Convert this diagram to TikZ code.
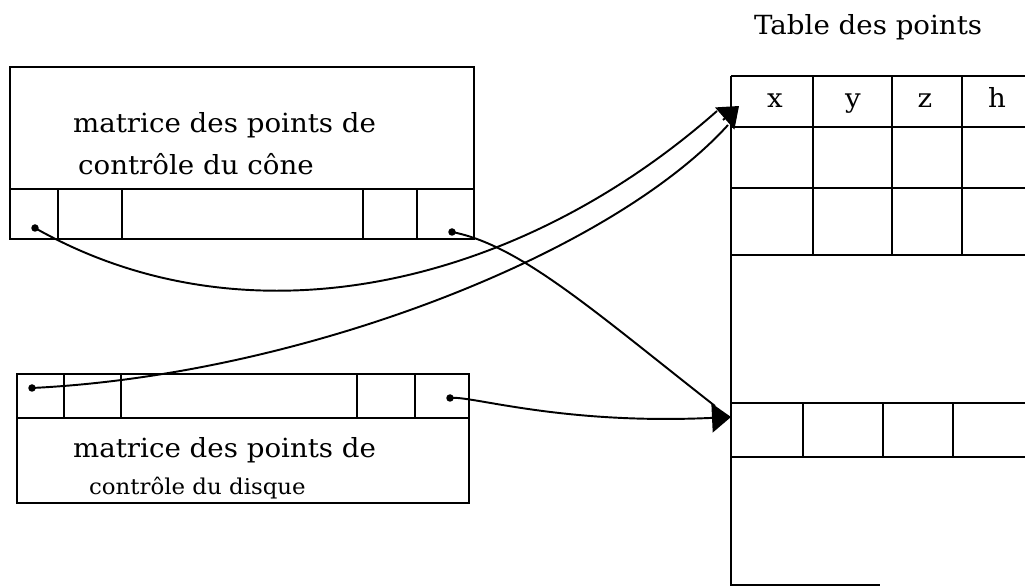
\documentclass[tikz,border=0pt]{standalone}
\usepackage{fontspec}
\setmainfont{DejaVu Serif}[FakeStretch=1.05]
\usetikzlibrary{arrows.meta}

\begin{document}
\begin{tikzpicture}[x=0.02cm, y=-0.02cm, line width=1.3pt,
  ptr/.style={line width=1.1pt, -{Triangle[length=3.8mm,width=5.8mm]}},
  dot/.style={circle, fill, inner sep=0pt, minimum size=1.5mm},
  lbl/.style={anchor=base west, inner sep=0pt, font=\fontsize{15}{17}\selectfont}]
\useasboundingbox (0,0) rectangle (1025,587);
% matrice du cone
\draw (10,67) rectangle (474,239);
\draw (10,189) -- (474,189);
\foreach \x in {58,122,363,417} \draw (\x,189) -- (\x,239);
\node[lbl] (coneA) at (72,133) {matrice des points de};
\node[lbl] (coneB) at (77,175) {contrôle du cône};
\node[dot] (coneFirst) at (35,228) {};
\node[dot] (coneLast) at (452,232) {};
% matrice du disque
\draw (17,374) rectangle (469,503);
\draw (17,418) -- (469,418);
\foreach \x in {64,121,357,415} \draw (\x,374) -- (\x,418);
\node[lbl] (discA) at (72,458) {matrice des points de};
\node[lbl, font=\fontsize{12.4}{14}\selectfont] (discB) at (88,495) {contrôle du disque};
\node[dot] (discFirst) at (32,388) {};
\node[dot] (discLast) at (450,398) {};
% table des points
\node[lbl] (title) at (753,35) {Table des points};
\draw (731,76) -- (731,585) -- (880,585);
\foreach \y in {76,127,188,255} \draw (731,\y) -- (1025,\y);
\foreach \x in {813,892,962} \draw (\x,76) -- (\x,255);
\draw (731,403) -- (1025,403);
\draw (731,457) -- (1025,457);
\foreach \x in {803,883,953} \draw (\x,403) -- (\x,457);
\node[lbl, anchor=base] (colX) at (775,108) {x};
\node[lbl, anchor=base] (colY) at (853,108) {y};
\node[lbl, anchor=base] (colZ) at (925,108) {z};
\node[lbl, anchor=base] (colH) at (997,108) {h};
\coordinate (headIn) at (739,106);
\coordinate (headBase) at (723,120);
\coordinate (headA) at (717,111);
\coordinate (headB) at (728,125);
\coordinate (rowIn) at (731,417);
\coordinate (rowA) at (715,406);
% pointeurs
\draw[ptr] (headBase) -- (headIn);
\draw[ptr, -] (coneFirst.center) .. controls (250,350) and (520,285) .. (headA);
\draw[ptr, -] (discFirst.center) .. controls (300,375) and (610,255) .. (headB);
\draw[ptr, -] (coneLast.center) .. controls (520,245) and (595,312) .. (rowA);
\draw[ptr] (discLast.center) .. controls (470,395) and (560,425) .. (rowIn);
\end{tikzpicture}
\end{document}
